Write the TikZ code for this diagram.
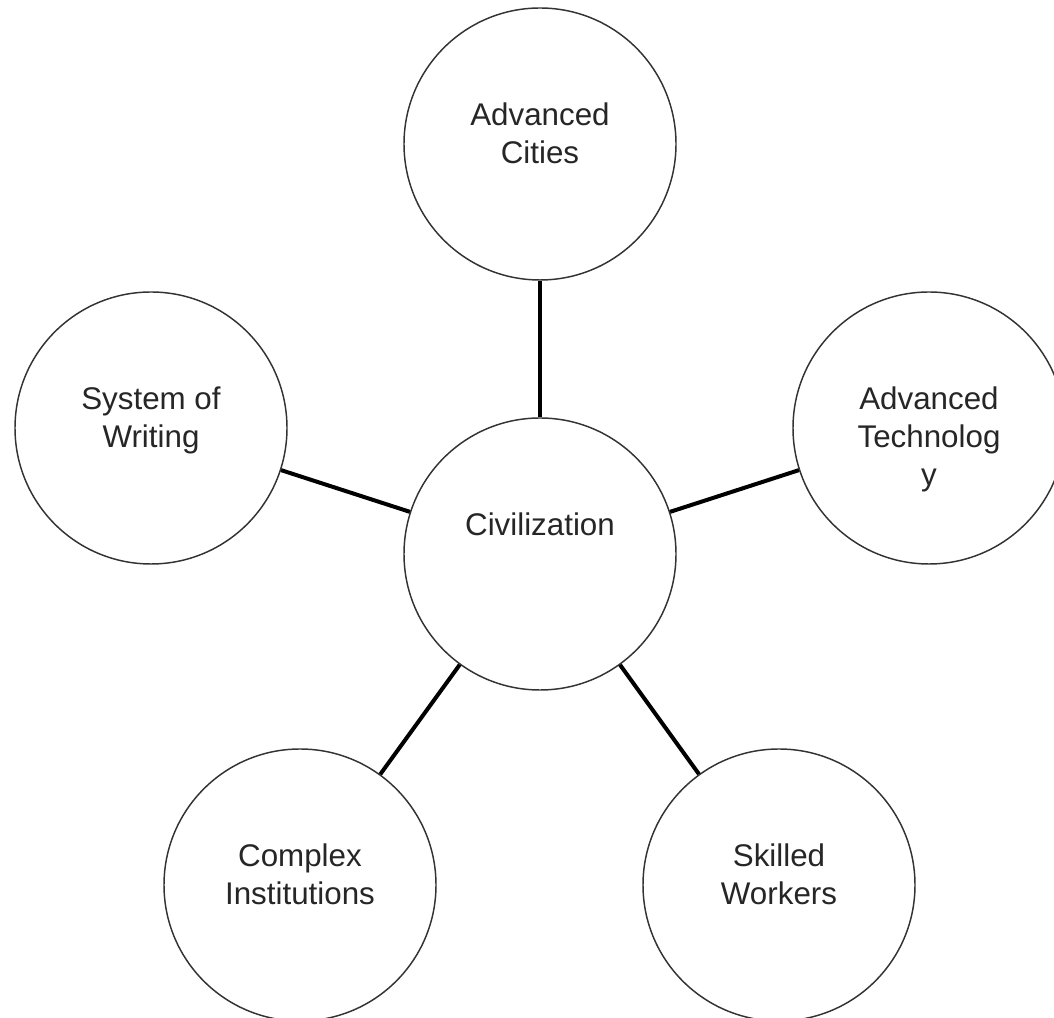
\documentclass[tikz,border=0pt]{standalone}
\usepackage{fontspec}
\setmainfont{Liberation Sans}
\usepackage{tikz}
\usetikzlibrary{positioning}

\begin{document}
\begin{tikzpicture}
[x = .75pt, y = .75pt,
 bubble/.style = {circle, draw=black!80, line width=1.1pt, fill=white, minimum size=204pt, inner sep=0pt},
 caption/.style = {anchor=north, yshift=31pt, align=center, inner sep=0pt, text=black!85,
   font=\fontsize{23.5pt}{28.5pt}\selectfont},
 spoke/.style = {line width=3pt, black}]
\useasboundingbox (0,0) rectangle (1054,1018);
\clip (0,0) rectangle (1054,1018);

% the hub
\node[bubble] (civ) at (540,464) {};

% the five traits around it
\node[bubble] (cities) at (540,874) {};
\node[bubble] (writing) at (151,590) {};
\node[bubble] (tech) at (929,590) {};
\node[bubble] (inst) at (300,133) {};
\node[bubble] (workers) at (779,133) {};

% texts sit a little above each centre
\node[caption] (civ-txt) at (civ.center) {Civilization};
\node[caption] (cities-txt) at (cities.center) {Advanced\\Cities};
\node[caption] (writing-txt) at (writing.center) {System of\\Writing};
\node[caption] (tech-txt) at (tech.center) {Advanced\\Technolog\\y};
\node[caption] (inst-txt) at (inst.center) {Complex\\Institutions};
\node[caption] (workers-txt) at (workers.center) {Skilled\\Workers};

\draw[spoke] (civ) -- (cities);
\draw[spoke] (civ) -- (writing);
\draw[spoke] (civ) -- (tech);
\draw[spoke] (civ) -- (inst);
\draw[spoke] (civ) -- (workers);

\end{tikzpicture}
\end{document}
